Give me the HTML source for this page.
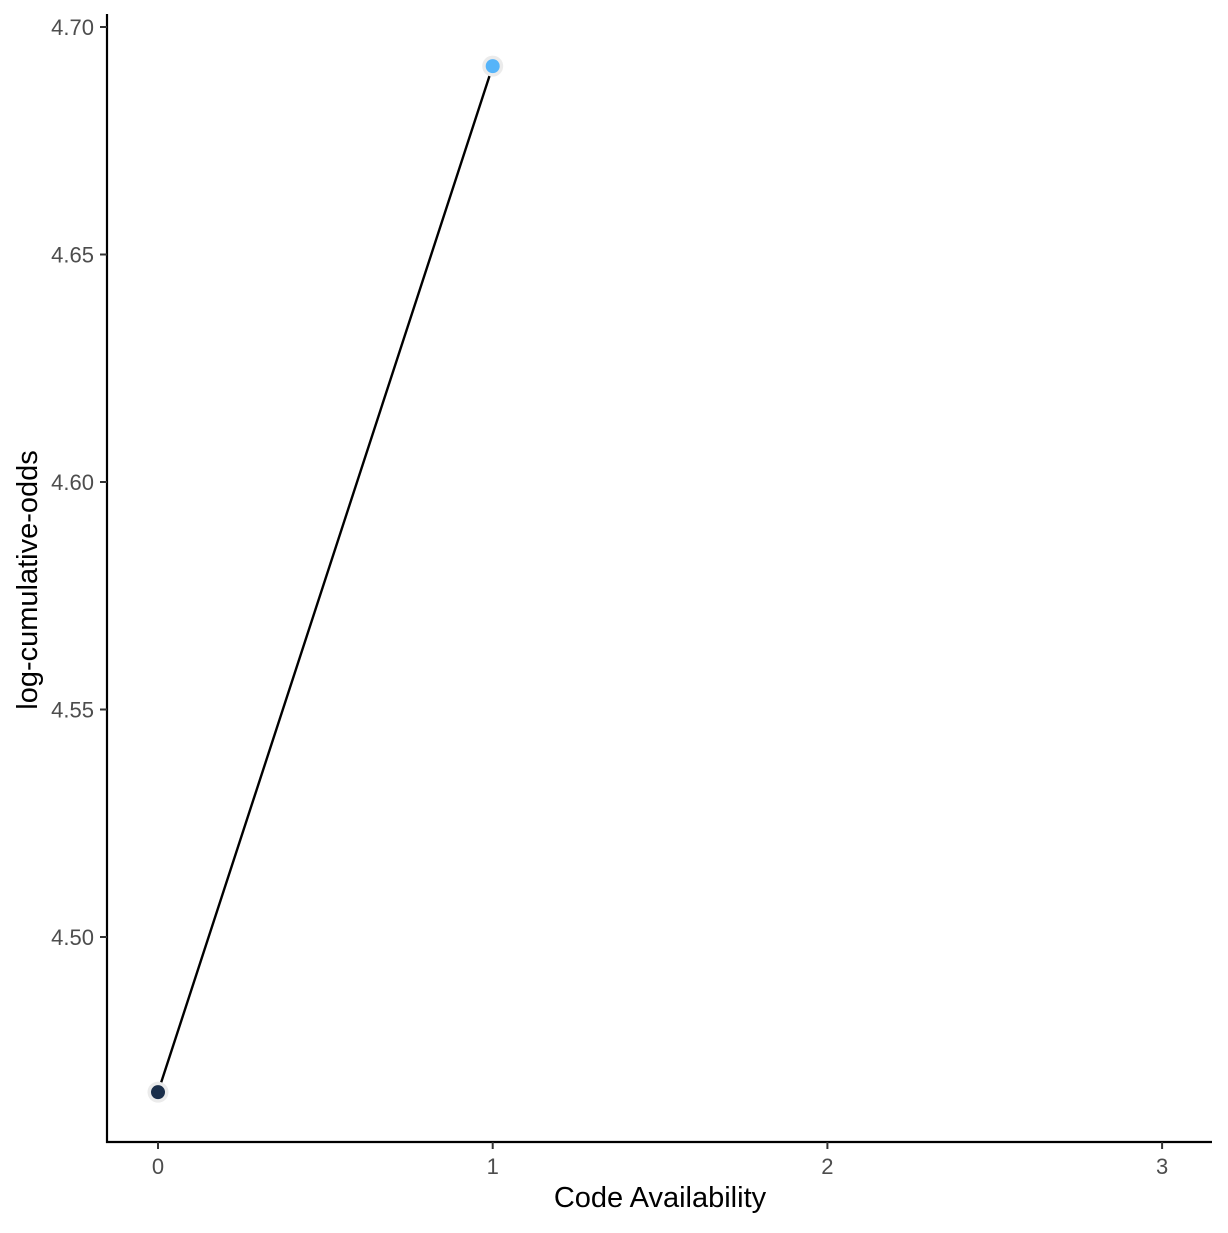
<!DOCTYPE html>
<html><head><meta charset="utf-8"><style>
html,body{margin:0;padding:0;background:#fff;}
svg text{font-family:"Liberation Sans",Arial,sans-serif;}
</style></head><body>
<svg id="chart" width="1228" height="1228" viewBox="0 0 1228 1228">
<g id="marks"></g>
<line x1="107" y1="14" x2="107" y2="1143" stroke="#000" stroke-width="2.2"/>
<line x1="106" y1="1142" x2="1212" y2="1142" stroke="#000" stroke-width="2.2"/>
<g id="ticks"></g>
<text x="660" y="1207" font-size="29" text-anchor="middle" fill="#000">Code Availability</text>
<text transform="translate(37,580) rotate(-90)" font-size="29" text-anchor="middle" fill="#000">log-cumulative-odds</text>
</svg>
<script>
const categories = [0, 1];
const values = [4.4659, 4.6914];
const pointColors = ["#1a2e4a", "#56b4f9"];
const xTicks = [0, 1, 2, 3];
const xTickLabels = ["0", "1", "2", "3"];
const yTicks = [4.50, 4.55, 4.60, 4.65, 4.70];
const yTickLabels = ["4.50", "4.55", "4.60", "4.65", "4.70"];

function xScale(v){ return 158 + v * 334.7; }
function yScale(v){ return 937 - (v - 4.50) / 0.05 * 227.5; }
const NS = "http://www.w3.org/2000/svg";
const marks = document.getElementById('marks');
const ticks = document.getElementById('ticks');

const pts = categories.map((c,i)=>xScale(c)+","+yScale(values[i])).join(" ");
const line = document.createElementNS(NS,'polyline');
line.setAttribute('points', pts);
line.setAttribute('fill','none');
line.setAttribute('stroke','#000');
line.setAttribute('stroke-width','2.4');


marks.appendChild(line);

categories.forEach((c,i)=>{
  const ring = document.createElementNS(NS,'circle');
  ring.setAttribute('cx', xScale(c)); ring.setAttribute('cy', yScale(values[i]));
  ring.setAttribute('r', 10.5); ring.setAttribute('fill', '#ebebeb');
  
  
  marks.appendChild(ring);
  const p = document.createElementNS(NS,'circle');
  p.setAttribute('cx', xScale(c)); p.setAttribute('cy', yScale(values[i]));
  p.setAttribute('r', 7); p.setAttribute('fill', pointColors[i]);
  
  
  marks.appendChild(p);
});

xTicks.forEach((t,i)=>{
  const x = xScale(t);
  const l = document.createElementNS(NS,'line');
  l.setAttribute('x1',x); l.setAttribute('x2',x); l.setAttribute('y1',1142); l.setAttribute('y2',1149);
  l.setAttribute('stroke','#333'); l.setAttribute('stroke-width','2');
  
  
  ticks.appendChild(l);
  const tx = document.createElementNS(NS,'text');
  tx.setAttribute('x',x); tx.setAttribute('y',1174); tx.setAttribute('font-size','22');
  tx.setAttribute('text-anchor','middle'); tx.setAttribute('fill','#4d4d4d');
  tx.textContent = xTickLabels[i];
  
  
  ticks.appendChild(tx);
});
yTicks.forEach((t,i)=>{
  const y = yScale(t);
  const l = document.createElementNS(NS,'line');
  l.setAttribute('x1',100); l.setAttribute('x2',107); l.setAttribute('y1',y); l.setAttribute('y2',y);
  l.setAttribute('stroke','#333'); l.setAttribute('stroke-width','2');
  
  
  ticks.appendChild(l);
  const tx = document.createElementNS(NS,'text');
  tx.setAttribute('x',94); tx.setAttribute('y',y+8); tx.setAttribute('font-size','22');
  tx.setAttribute('text-anchor','end'); tx.setAttribute('fill','#4d4d4d');
  tx.textContent = yTickLabels[i];
  
  
  ticks.appendChild(tx);
});
</script>
</body></html>
